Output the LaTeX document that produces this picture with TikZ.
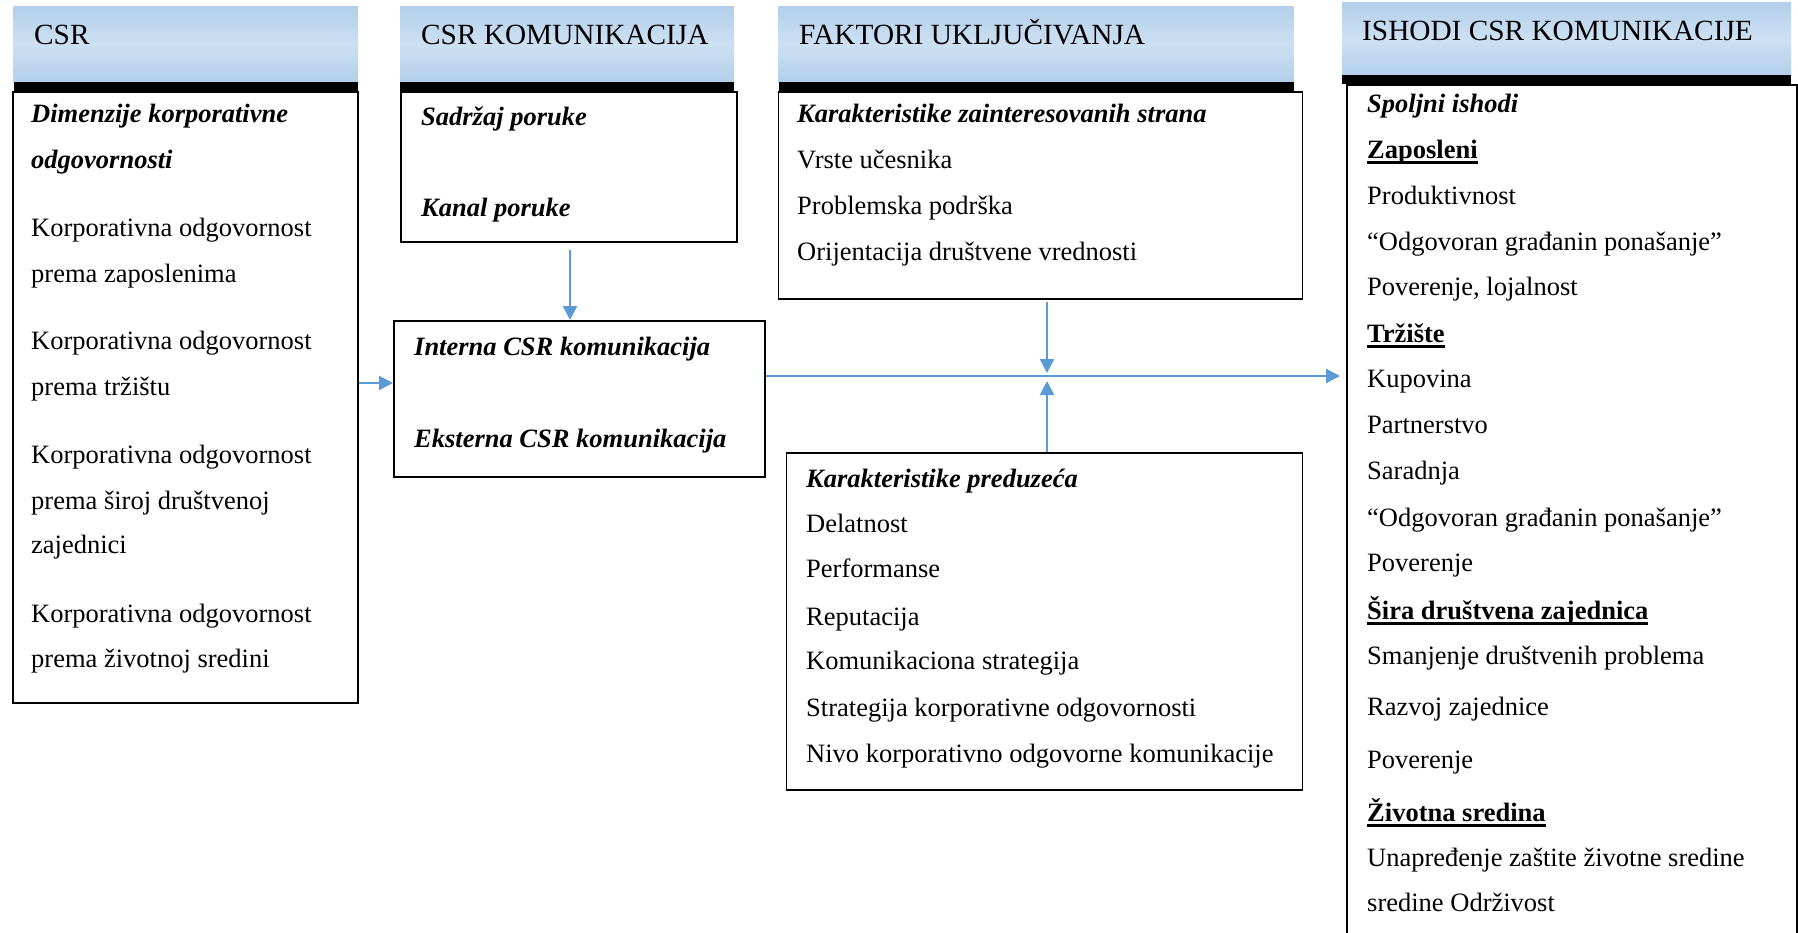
\documentclass[tikz,border=0pt]{standalone}
\usepackage{fontspec}
\setmainfont{Liberation Serif}
\usetikzlibrary{arrows.meta}
\definecolor{hdrdark}{RGB}{178,207,234}
\definecolor{hdrlight}{RGB}{205,224,243}
\definecolor{linkblue}{RGB}{91,155,213}
\newcommand{\ulhead}[1]{\setbox0\hbox{\bfseries #1}\rlap{\rule[-5.5pt]{\wd0}{3pt}}\box0}
\tikzset{
  hdr/.style={top color=hdrdark, bottom color=hdrdark, middle color=hdrlight, inner sep=0pt, anchor=north west},
  box/.style={draw, line width=1.6pt, inner sep=0pt, anchor=north west},
  txt/.style={anchor=base west, inner sep=0pt, font=\fontsize{26.5}{32}\selectfont},
  htxt/.style={txt, font=\fontsize{29.3}{34}\selectfont},
  hd/.style={txt, font=\fontsize{26.5}{32}\selectfont\bfseries\itshape},
  link/.style={draw=linkblue, line width=2.2pt, -{Triangle[length=14pt,width=14pt]}}
}
\begin{document}
\begin{tikzpicture}[x=1pt,y=-1pt]
\useasboundingbox (0,0) rectangle (1798,932);
\clip (0,0) rectangle (1798,932);
% zaglavlja
\node[hdr, minimum width=344.5pt, minimum height=76pt] (hcsr) at (13.5,6) {};
\node[hdr, minimum width=334pt, minimum height=76pt] (hkom) at (400,6) {};
\node[hdr, minimum width=515pt, minimum height=76pt] (hfak) at (778.5,6) {};
\node[hdr, minimum width=449pt, minimum height=73pt] (hish) at (1342,2) {};
\foreach \h in {hcsr,hkom,hfak,hish}
  \fill (\h.south west) rectangle ([yshift=-9pt]\h.south east);
\node[htxt] (tcsr) at (34,44) {CSR};
\node[htxt] (tkom) at (421,44) {CSR KOMUNIKACIJA};
\node[htxt] (tfak) at (799,44) {FAKTORI UKLJUČIVANJA};
\node[htxt] (tish) at (1362,40) {ISHODI CSR KOMUNIKACIJE};
% okviri
\node[box, minimum width=345pt, minimum height=611pt] (csr) at (12,91) {};
\node[box, minimum width=336pt, minimum height=150pt] (kanal) at (400,91) {};
\node[box, minimum width=371pt, minimum height=156pt] (interna) at (393,320) {};
\node[box, minimum width=524pt, minimum height=207pt] (strane) at (777.5,91) {};
\node[box, minimum width=516pt, minimum height=337pt] (firma) at (785.5,452) {};
\node[box, minimum width=450pt, minimum height=900pt] (ishod) at (1346,84) {};
% CSR
\node[hd] (dim1) at (31,122.7) {Dimenzije korporativne};
\node[hd] (dim2) at (31,168.5) {odgovornosti};
\foreach \y/\t [count=\i] in {236.2/Korporativna odgovornost, 282/prema zaposlenima,
  349.7/Korporativna odgovornost, 395.6/prema tržištu,
  463.2/Korporativna odgovornost, 509.1/prema široj društvenoj, 553.8/zajednici,
  622.6/Korporativna odgovornost, 667.4/prema životnoj sredini}
  \node[txt] (csr\i) at (31,\y) {\t};
% CSR komunikacija
\node[hd] (sadrzaj) at (421,125) {Sadržaj poruke};
\node[hd] (kan) at (421,216.7) {Kanal poruke};
\node[hd] (int) at (414,355.4) {Interna CSR komunikacija};
\node[hd] (eks) at (414,447.2) {Eksterna CSR komunikacija};
% faktori
\node[hd] (kzs) at (797,122.7) {Karakteristike zainteresovanih strana};
\foreach \y/\t [count=\i] in {168.5/Vrste učesnika, 214.4/Problemska podrška,
  260.3/Orijentacija društvene vrednosti}
  \node[txt] (str\i) at (797,\y) {\t};
\node[hd] (kp) at (806,487.3) {Karakteristike preduzeća};
\foreach \y/\t [count=\i] in {532/Delatnost, 577.9/Performanse, 625/Reputacija,
  669.6/Komunikaciona strategija, 716.7/Strategija korporativne odgovornosti,
  762.5/Nivo korporativno odgovorne komunikacije}
  \node[txt] (fir\i) at (806,\y) {\t};
% ishodi
\node[hd] (spolj) at (1367,112.3) {Spoljni ishodi};
\foreach \y/\t [count=\i] in {158.2/\ulhead{Zaposleni}, 204/Produktivnost,
  250/“Odgovoran građanin ponašanje”, 295.8/{Poverenje, lojalnost},
  342.8/\ulhead{Tržište}, 387.6/Kupovina, 433.4/Partnerstvo, 479.3/Saradnja,
  526.3/“Odgovoran građanin ponašanje”, 571/Poverenje,
  619.2/\ulhead{Šira društvena zajednica}, 664/Smanjenje društvenih problema,
  715.5/Razvoj zajednice, 768.3/Poverenje,
  821/\ulhead{Životna sredina}, 866.9/Unapređenje zaštite životne sredine,
  911.6/sredine Održivost}
  \node[txt] (ish\i) at (1367,\y) {\t};
% veze
\coordinate (csrout) at (359,383);
\coordinate (kanalout) at (570,250);
\coordinate (junc) at (1047,376);
\draw[link] (csrout) -- (csrout -| interna.west);
\draw[link] (kanalout) -- (kanalout |- interna.north);
\draw[link] ([yshift=-2pt]strane.south -| junc) -- ([yshift=3pt]junc);
\draw[link] (firma.north -| junc) -- ([yshift=-5pt]junc);
\draw[link, shorten >=6pt] (interna.east |- junc) -- (junc -| ishod.west);
\end{tikzpicture}
\end{document}
